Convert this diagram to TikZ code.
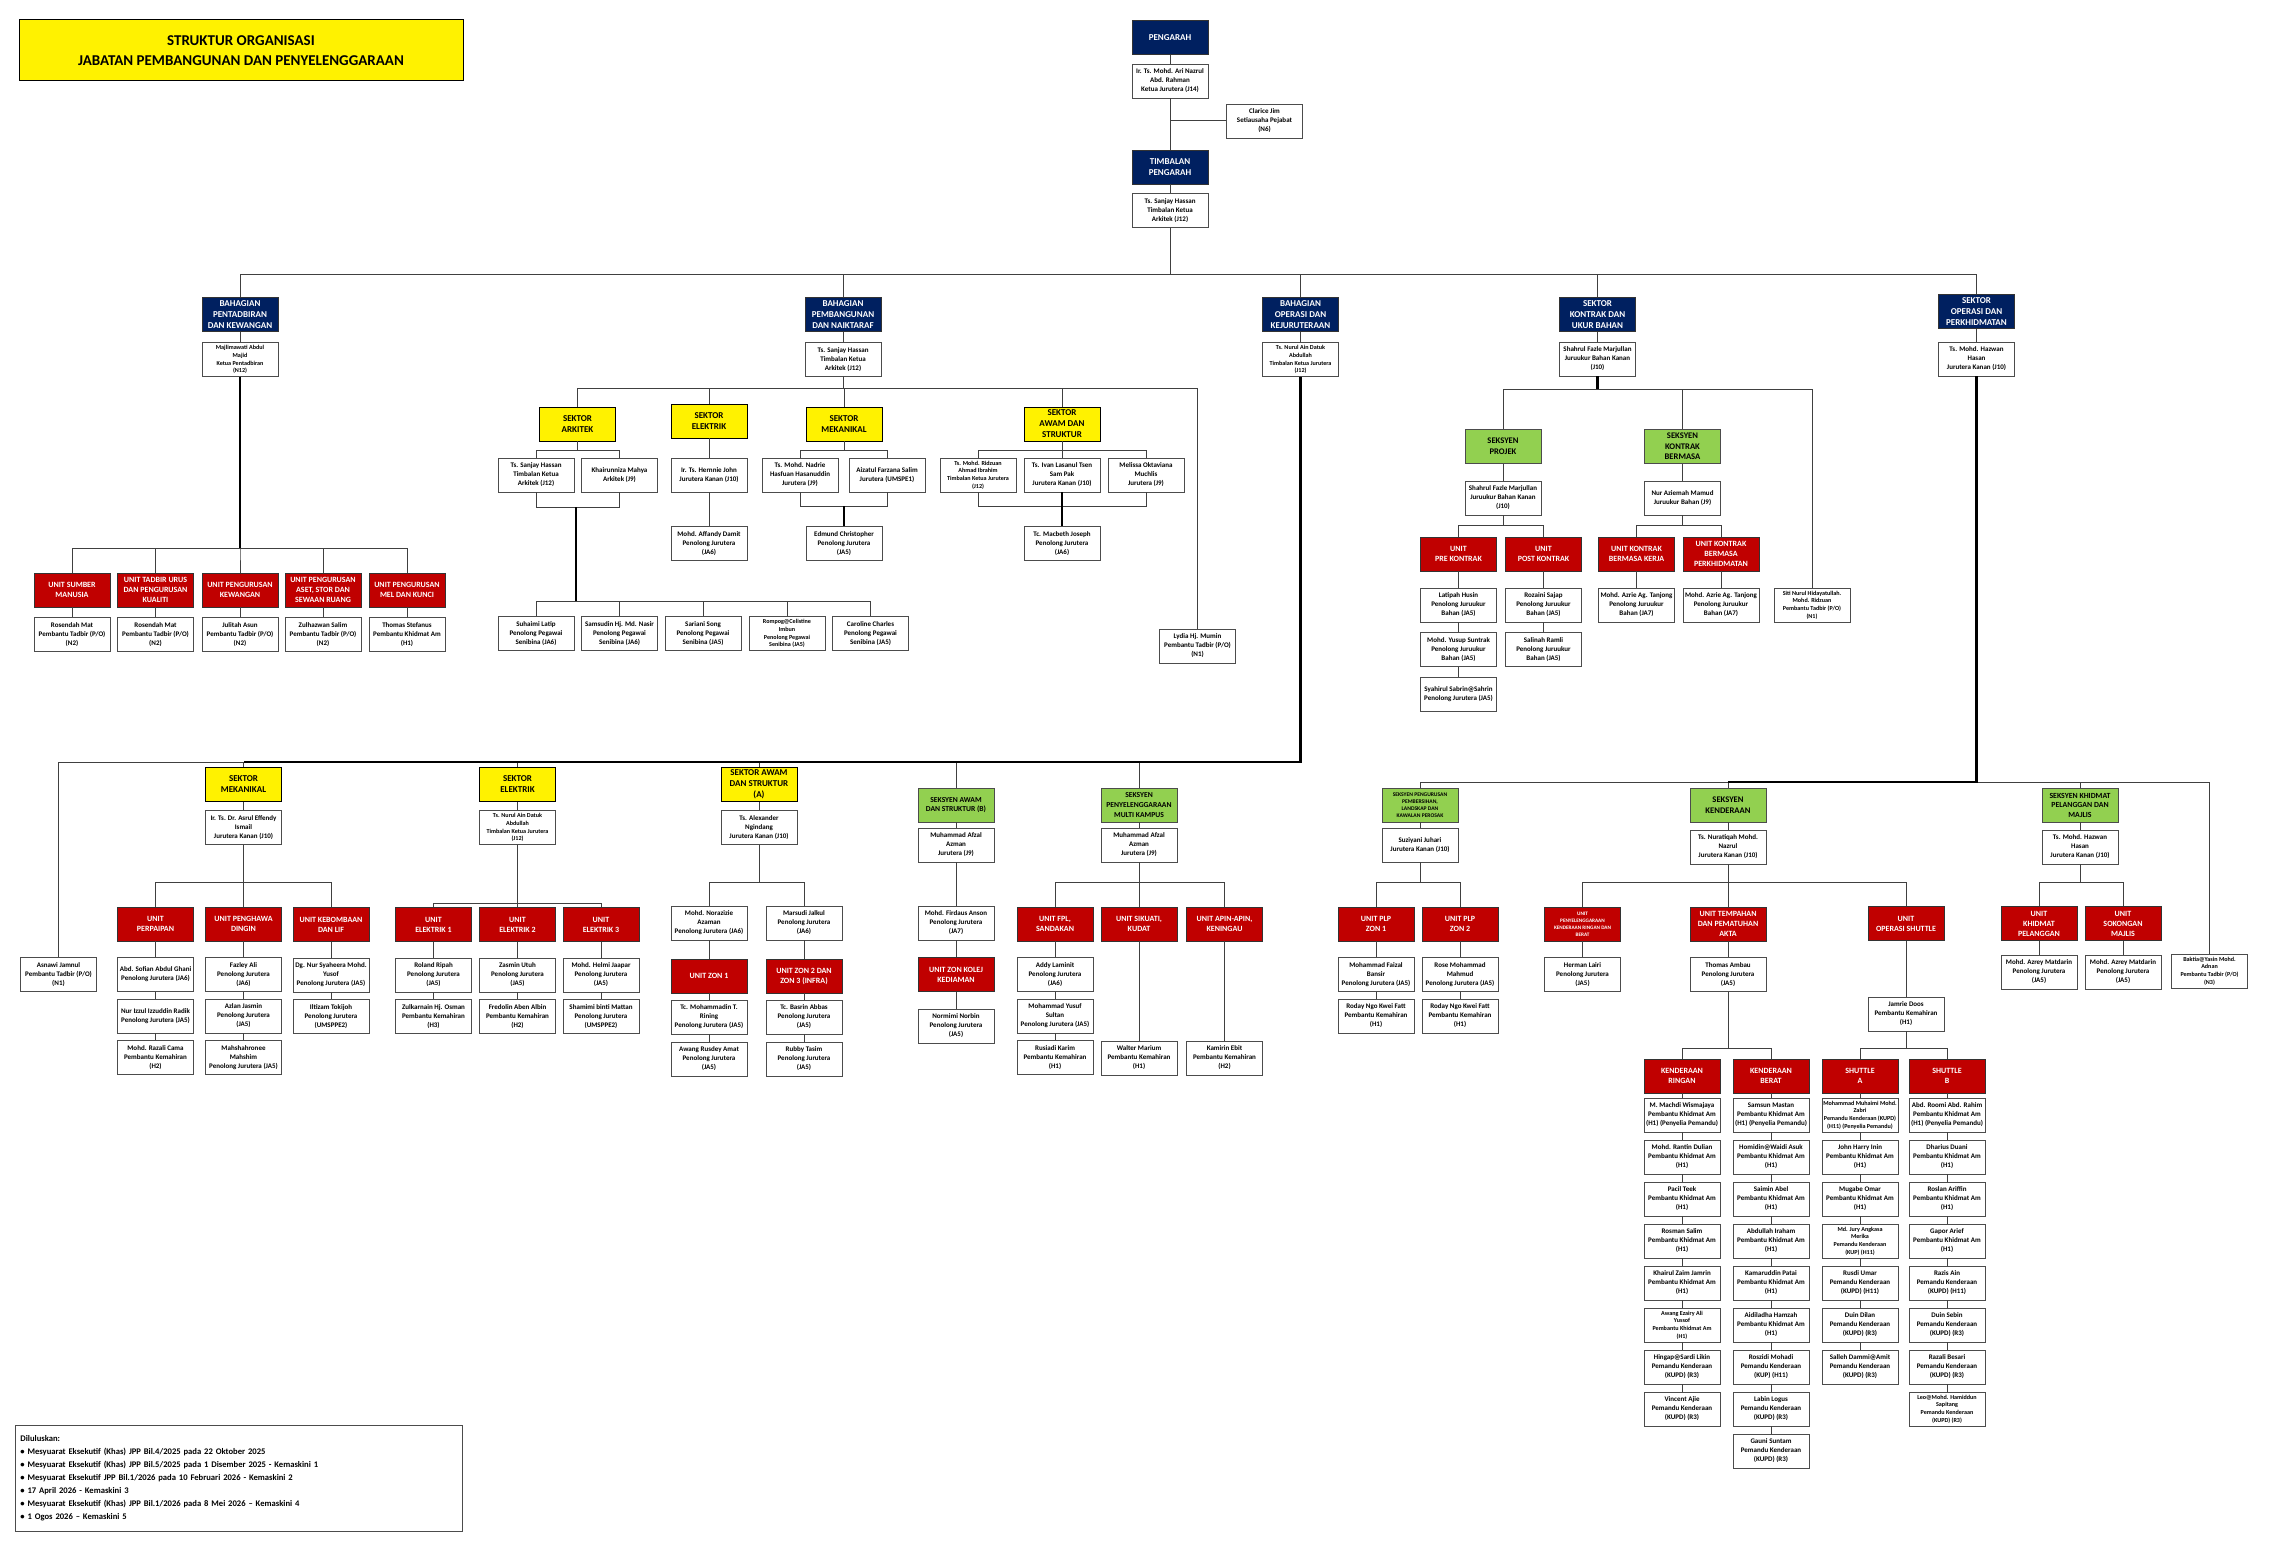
\documentclass[tikz,border=0pt]{standalone}
\usepackage{fontspec}
\setmainfont{Carlito}

\definecolor{navy}{HTML}{002060}
\definecolor{unitred}{HTML}{C00000}
\definecolor{leaf}{HTML}{92D050}

\tikzset{
  fs/.style 2 args={font=\bfseries\fontsize{#1}{#2}\selectfont},
  box/.style={line width=0.9pt, minimum width=76pt, minimum height=34pt, inner sep=1pt, align=center},
  staffbox/.style={box, draw=black!70, fill=white, fs={7}{9}},
  std/.style={},
  fourline/.style={fs={6.1}{7.7}},
  hdrbox/.style={box, draw=black!80, fill=navy, text=white, fs={9}{11}},
  sektorbox/.style={box, draw=black, fill=yellow, fs={9}{11}},
  seksyenbox/.style={box, draw=black!70, fill=leaf, fs={8.6}{10.6}},
  unitbox/.style={box, draw=black!80, fill=unitred, text=white, fs={8}{10}},
  titlebox/.style={draw=black, line width=1pt, fill=yellow, minimum width=444pt, minimum height=61pt, align=center, fs={15}{20}},
  notebox/.style={draw=black!70, line width=0.8pt, anchor=north west, text width=437pt, minimum height=106pt, inner sep=5pt, align=left, fs={8.6}{13}},
  conn/.style={draw=black!75, line width=1pt},
  conntk/.style={draw=black, line width=2.2pt},
}

\begin{document}
\begin{tikzpicture}[x=1pt, y=-1pt]
\useasboundingbox (0,0) rectangle (2269,1546);

% title and notes
\node[titlebox] (ttl) at (241,50.5) {STRUKTUR ORGANISASI\\JABATAN PEMBANGUNAN DAN PENYELENGGARAAN};
\node[notebox] (nota) at (15,1425) {Diluluskan:\\
\textbullet\ Mesyuarat Eksekutif (Khas) JPP Bil.4/2025 pada 22 Oktober 2025\\
\textbullet\ Mesyuarat Eksekutif (Khas) JPP Bil.5/2025 pada 1 Disember 2025 - Kemaskini 1\\
\textbullet\ Mesyuarat Eksekutif JPP Bil.1/2026 pada 10 Februari 2026 - Kemaskini 2\\
\textbullet\ 17 April 2026 - Kemaskini 3\\
\textbullet\ Mesyuarat Eksekutif (Khas) JPP Bil.1/2026 pada 8 Mei 2026 – Kemaskini 4\\
\textbullet\ 1 Ogos 2026 – Kemaskini 5};

% pengarah
\node[hdrbox] (pgr) at (1170,37.5) {PENGARAH};
\node[staffbox] (pgrN) at (1170,81) {Ir. Ts. Mohd. Ari Nazrul\\Abd. Rahman\\Ketua Jurutera (J14)};
\node[staffbox] (sec) at (1264.5,121) {Clarice Jim\\Setiausaha Pejabat\\(N6)};
\node[hdrbox] (tpg) at (1170,167) {TIMBALAN\\PENGARAH};
\node[staffbox] (tpgN) at (1170,210.5) {Ts. Sanjay Hassan\\Timbalan Ketua\\Arkitek (J12)};

% bahagian / sektor utama
\node[hdrbox] (bPtd) at (240,314.5) {BAHAGIAN\\PENTADBIRAN\\DAN KEWANGAN};
\node[staffbox, fourline] (nPtd) at (240,359.5) {Majlimawati Abdul\\Majid\\Ketua Pentadbiran\\(N12)};
\node[hdrbox] (bPbg) at (843,314.5) {BAHAGIAN\\PEMBANGUNAN\\DAN NAIKTARAF};
\node[staffbox] (nPbg) at (843,359.5) {Ts. Sanjay Hassan\\Timbalan Ketua\\Arkitek (J12)};
\node[hdrbox] (bOps) at (1300.5,314.5) {BAHAGIAN\\OPERASI DAN\\KEJURUTERAAN};
\node[staffbox, fourline] (nOps) at (1300.5,359.5) {Ts. Nurul Ain Datuk\\Abdullah\\Timbalan Ketua Jurutera\\(J12)};
\node[hdrbox] (sKub) at (1597.5,314.5) {SEKTOR\\KONTRAK DAN\\UKUR BAHAN};
\node[staffbox] (nKub) at (1597.5,359) {Shahrul Fazle Marjullan\\Juruukur Bahan Kanan\\(J10)};
\node[hdrbox] (sOpk) at (1976.5,311.5) {SEKTOR\\OPERASI DAN\\PERKHIDMATAN};
\node[staffbox] (nOpk) at (1976.5,359) {Ts. Mohd. Hazwan\\Hasan\\Jurutera Kanan (J10)};

% pentadbiran
\node[unitbox] (uSm) at (72,590) {UNIT SUMBER\\MANUSIA};
\node[unitbox] (uTu) at (155.5,590) {UNIT TADBIR URUS\\DAN PENGURUSAN\\KUALITI};
\node[unitbox] (uKw) at (240,590) {UNIT PENGURUSAN\\KEWANGAN};
\node[unitbox] (uAs) at (323,590) {UNIT PENGURUSAN\\ASET, STOR DAN\\SEWAAN RUANG};
\node[unitbox] (uMel) at (407,590) {UNIT PENGURUSAN\\MEL DAN KUNCI};
\node[staffbox] (sSm) at (72,634.5) {Rosendah Mat\\Pembantu Tadbir (P/O)\\(N2)};
\node[staffbox] (sTu) at (155.5,634.5) {Rosendah Mat\\Pembantu Tadbir (P/O)\\(N2)};
\node[staffbox] (sKw) at (240,634.5) {Julitah Asun\\Pembantu Tadbir (P/O)\\(N2)};
\node[staffbox] (sAs) at (323,634.5) {Zulhazwan Salim\\Pembantu Tadbir (P/O)\\(N2)};
\node[staffbox] (sMel) at (407,634.5) {Thomas Stefanus\\Pembantu Khidmat Am\\(H1)};

% pembangunan
\node[sektorbox] (sArk) at (577.5,424) {SEKTOR\\ARKITEK};
\node[sektorbox] (sElk) at (709,421) {SEKTOR\\ELEKTRIK};
\node[sektorbox] (sMek) at (844,424) {SEKTOR\\MEKANIKAL};
\node[sektorbox] (sAws) at (1062,424) {SEKTOR\\AWAM DAN\\STRUKTUR};
\node[staffbox] (lydia) at (1197.5,646) {Lydia Hj. Mumin\\Pembantu Tadbir (P/O)\\(N1)};
\node[staffbox] (ark1) at (536,475) {Ts. Sanjay Hassan\\Timbalan Ketua\\Arkitek (J12)};
\node[staffbox] (ark2) at (619.5,475) {Khairunniza Mahya\\Arkitek (J9)};
\coordinate (arkJ) at (576,507);
\node[staffbox] (arkS1) at (536,633.5) {Suhaimi Latip\\Penolong Pegawai\\Senibina (JA6)};
\node[staffbox] (arkS2) at (619.5,633.5) {Samsudin Hj. Md. Nasir\\Penolong Pegawai\\Senibina (JA6)};
\node[staffbox] (arkS3) at (703,633.5) {Sariani Song\\Penolong Pegawai\\Senibina (JA5)};
\node[staffbox, fourline] (arkS4) at (787,633.5) {Rompog@Celistine\\Imbun\\Penolong Pegawai\\Senibina (JA5)};
\node[staffbox] (arkS5) at (870.5,633.5) {Caroline Charles\\Penolong Pegawai\\Senibina (JA5)};
\node[staffbox] (el1) at (709,475) {Ir. Ts. Hernnie John\\Jurutera Kanan (J10)};
\node[staffbox] (el2) at (709,543.5) {Mohd. Affandy Damit\\Penolong Jurutera\\(JA6)};
\node[staffbox] (mk1) at (800,475) {Ts. Mohd. Nadrie\\Hasfuan Hasanuddin\\Jurutera (J9)};
\node[staffbox] (mk2) at (887,475) {Aizatul Farzana Salim\\Jurutera (UMSPE1)};
\node[staffbox] (mk3) at (844,543.5) {Edmund Christopher\\Penolong Jurutera\\(JA5)};
\node[staffbox, fourline] (aw1) at (978,475) {Ts. Mohd. Ridzuan\\Ahmad Ibrahim\\Timbalan Ketua Jurutera\\(J12)};
\node[staffbox] (aw2) at (1062,475) {Ts. Ivan Lasanul Tsen\\Sam Pak\\Jurutera Kanan (J10)};
\node[staffbox] (aw3) at (1146,475) {Melissa Oktaviana\\Muchlis\\Jurutera (J9)};
\node[staffbox] (aw4) at (1062,543.5) {Tc. Macbeth Joseph\\Penolong Jurutera\\(JA6)};

% operasi dan kejuruteraan
\node[staffbox] (asnawi) at (58.5,974.5) {Asnawi Jamnul\\Pembantu Tadbir (P/O)\\(N1)};
\node[sektorbox] (sMk) at (243.5,784.5) {SEKTOR\\MEKANIKAL};
\node[staffbox] (nMk) at (243.5,827.5) {Ir. Ts. Dr. Asrul Effendy\\Ismail\\Jurutera Kanan (J10)};
\node[unitbox, alias=uPp-0] (uPp) at (155.5,924) {UNIT\\PERPAIPAN};
\node[unitbox, alias=uPd-0] (uPd) at (243.5,924) {UNIT PENGHAWA\\DINGIN};
\node[unitbox, alias=uKb-0] (uKb) at (331,924.5) {UNIT KEBOMBAAN\\DAN LIF};
\node[sektorbox] (sEl) at (517.5,784.5) {SEKTOR\\ELEKTRIK};
\node[staffbox, fourline] (nEl) at (517.5,827.5) {Ts. Nurul Ain Datuk\\Abdullah\\Timbalan Ketua Jurutera\\(J12)};
\node[unitbox, alias=uE1-0] (uE1) at (433.5,924.5) {UNIT\\ELEKTRIK 1};
\node[unitbox, alias=uE2-0] (uE2) at (517.5,924.5) {UNIT\\ELEKTRIK 2};
\node[unitbox, alias=uE3-0] (uE3) at (601,924.5) {UNIT\\ELEKTRIK 3};
\node[sektorbox] (sAw) at (759,784.5) {SEKTOR AWAM\\DAN STRUKTUR\\(A)};
\node[staffbox] (nAw) at (759,827.5) {Ts. Alexander\\Ngindang\\Jurutera Kanan (J10)};
\node[staffbox] (zA1) at (709,923) {Mohd. Norazizie\\Azaman\\Penolong Jurutera (JA6)};
\node[staffbox] (zA2) at (804,923) {Marsudi Jalkul\\Penolong Jurutera\\(JA6)};
\node[unitbox, alias=uZ1-0] (uZ1) at (709,976) {UNIT ZON 1};
\node[unitbox, alias=uZ2-0] (uZ2) at (804,976) {UNIT ZON 2 DAN\\ZON 3 (INFRA)};
\node[seksyenbox, fs={7.6}{9.6}] (kAwB) at (956,805) {SEKSYEN AWAM\\DAN STRUKTUR (B)};
\node[staffbox] (nAwB) at (956,845) {Muhammad Afzal\\Azman\\Jurutera (J9)};
\node[staffbox] (firdaus) at (956,923) {Mohd. Firdaus Anson\\Penolong Jurutera\\(JA7)};
\node[unitbox] (uKol) at (956,974.5) {UNIT ZON KOLEJ\\KEDIAMAN};
\node[staffbox] (normimi) at (956,1026) {Normimi Norbin\\Penolong Jurutera\\(JA5)};
\node[seksyenbox, fs={7.6}{9.6}] (kMkp) at (1139,805) {SEKSYEN\\PENYELENGGARAAN\\MULTI KAMPUS};
\node[staffbox] (nMkp) at (1139,845) {Muhammad Afzal\\Azman\\Jurutera (J9)};
\node[unitbox, alias=uFpl-0] (uFpl) at (1055,924) {UNIT FPL,\\SANDAKAN};
\node[unitbox] (uSik) at (1139,924) {UNIT SIKUATI,\\KUDAT};
\node[unitbox] (uApn) at (1224.5,924) {UNIT APIN-APIN,\\KENINGAU};
\node[staffbox] (walter) at (1139,1058) {Walter Marium\\Pembantu Kemahiran\\(H1)};
\node[staffbox] (kamirin) at (1224.5,1058) {Kamirin Ebit\\Pembantu Kemahiran\\(H2)};

% kontrak dan ukur bahan
\node[seksyenbox] (kPrj) at (1503,446.5) {SEKSYEN\\PROJEK};
\node[staffbox] (nPrj) at (1503,498) {Shahrul Fazle Marjullan\\Juruukur Bahan Kanan\\(J10)};
\node[seksyenbox] (kKbm) at (1682.5,446.5) {SEKSYEN\\KONTRAK\\BERMASA};
\node[staffbox] (nKbm) at (1682.5,498) {Nur Aziemah Mamud\\Juruukur Bahan (J9)};
\node[staffbox, fourline] (siti) at (1812,605) {Siti Nurul Hidayatullah.\\Mohd. Ridzuan\\Pembantu Tadbir (P/O)\\(N1)};
\node[unitbox, alias=uPre-0] (uPre) at (1458.5,554) {UNIT\\PRE KONTRAK};
\node[unitbox, alias=uPost-0] (uPost) at (1543.5,554) {UNIT\\POST KONTRAK};
\node[unitbox] (uKbk) at (1636.5,554) {UNIT KONTRAK\\BERMASA KERJA};
\node[unitbox] (uKbp) at (1721,554) {UNIT KONTRAK\\BERMASA\\PERKHIDMATAN};
\node[staffbox] (azrie1) at (1636.5,605) {Mohd. Azrie Ag. Tanjong\\Penolong Juruukur\\Bahan (JA7)};
\node[staffbox] (azrie2) at (1721,605) {Mohd. Azrie Ag. Tanjong\\Penolong Juruukur\\Bahan (JA7)};

% operasi dan perkhidmatan
\node[seksyenbox, fs={5.6}{7}] (kPlp) at (1420,805) {SEKSYEN PENGURUSAN\\PEMBERSIHAN,\\LANDSKAP DAN\\KAWALAN PEROSAK};
\node[staffbox] (nPlp) at (1420,845) {Suziyani Juhari\\Jurutera Kanan (J10)};
\node[unitbox, alias=uP1-0] (uP1) at (1376,924) {UNIT PLP\\ZON 1};
\node[unitbox, alias=uP2-0] (uP2) at (1460,924) {UNIT PLP\\ZON 2};
\node[seksyenbox] (kKen) at (1728,805) {SEKSYEN\\KENDERAAN};
\node[staffbox] (nKen) at (1728,847) {Ts. Nuratiqah Mohd.\\Nazrul\\Jurutera Kanan (J10)};
\node[unitbox, fs={5.2}{7}] (uPkr) at (1582.5,924) {UNIT\\PENYELENGGARAAN\\KENDERAAN RINGAN DAN\\BERAT};
\node[unitbox] (uTmp) at (1728,924) {UNIT TEMPAHAN\\DAN PEMATUHAN\\AKTA};
\node[unitbox] (uSht) at (1906,923.5) {UNIT\\OPERASI SHUTTLE};
\node[staffbox] (herman) at (1582.5,974.5) {Herman Lairi\\Penolong Jurutera\\(JA5)};
\node[staffbox] (thomas) at (1728,974.5) {Thomas Ambau\\Penolong Jurutera\\(JA5)};
\node[staffbox] (jamrie) at (1906,1014) {Jamrie Doos\\Pembantu Kemahiran\\(H1)};
\node[unitbox, alias=kRg-0] (kRg) at (1682,1076) {KENDERAAN\\RINGAN};
\node[unitbox, alias=kBr-0] (kBr) at (1771,1076) {KENDERAAN\\BERAT};
\node[unitbox, alias=shA-0] (shA) at (1860,1076) {SHUTTLE\\A};
\node[unitbox, alias=shB-0] (shB) at (1947,1076) {SHUTTLE\\B};
\node[seksyenbox, fs={7.8}{9.5}] (kKhd) at (2080,805) {SEKSYEN KHIDMAT\\PELANGGAN DAN\\MAJLIS};
\node[staffbox] (nKhd) at (2080,847) {Ts. Mohd. Hazwan\\Hasan\\Jurutera Kanan (J10)};
\node[unitbox] (uKp) at (2039,923.5) {UNIT\\KHIDMAT\\PELANGGAN};
\node[unitbox] (uSm2) at (2123,923.5) {UNIT\\SOKONGAN\\MAJLIS};
\node[staffbox] (azrey1) at (2039,972) {Mohd. Azrey Matdarin\\Penolong Jurutera\\(JA5)};
\node[staffbox] (azrey2) at (2123,972) {Mohd. Azrey Matdarin\\Penolong Jurutera\\(JA5)};
\node[staffbox, fourline] (baktia) at (2209.5,971) {Baktia@Yasin Mohd.\\Adnan\\Pembantu Tadbir (P/O)\\(N3)};

% staff columns
\foreach \s/\t [count=\i, remember=\i as \j (initially 0)] in {
  std/{Abd. Sofian Abdul Ghani\\Penolong Jurutera (JA6)},
  std/{Nur Izzul Izzuddin Radik\\Penolong Jurutera (JA5)},
  std/{Mohd. Razali Cama\\Pembantu Kemahiran\\(H2)}}
  {\node[staffbox, \s] (uPp-\i) at (155.5,933+41.5*\i) {\t};
   \draw[conn] (uPp-\j.south) -- (uPp-\i.north);}
\foreach \s/\t [count=\i, remember=\i as \j (initially 0)] in {
  std/{Fazley Ali\\Penolong Jurutera\\(JA6)},
  std/{Azlan Jasmin\\Penolong Jurutera\\(JA5)},
  std/{Mahshahronee\\Mahshim\\Penolong Jurutera (JA5)}}
  {\node[staffbox, \s] (uPd-\i) at (243.5,933+41.5*\i) {\t};
   \draw[conn] (uPd-\j.south) -- (uPd-\i.north);}
\foreach \s/\t [count=\i, remember=\i as \j (initially 0)] in {
  std/{Dg. Nur Syaheera Mohd.\\Yusof\\Penolong Jurutera (JA5)},
  std/{Iltizam Tokijoh\\Penolong Jurutera\\(UMSPPE2)}}
  {\node[staffbox, \s] (uKb-\i) at (331,933.5+41.5*\i) {\t};
   \draw[conn] (uKb-\j.south) -- (uKb-\i.north);}
\foreach \s/\t [count=\i, remember=\i as \j (initially 0)] in {
  std/{Roland Ripah\\Penolong Jurutera\\(JA5)},
  std/{Zulkarnain Hj. Osman\\Pembantu Kemahiran\\(H3)}}
  {\node[staffbox, \s] (uE1-\i) at (433.5,933.5+41.5*\i) {\t};
   \draw[conn] (uE1-\j.south) -- (uE1-\i.north);}
\foreach \s/\t [count=\i, remember=\i as \j (initially 0)] in {
  std/{Zasmin Utuh\\Penolong Jurutera\\(JA5)},
  std/{Fredolin Aben Albin\\Pembantu Kemahiran\\(H2)}}
  {\node[staffbox, \s] (uE2-\i) at (517.5,933.5+41.5*\i) {\t};
   \draw[conn] (uE2-\j.south) -- (uE2-\i.north);}
\foreach \s/\t [count=\i, remember=\i as \j (initially 0)] in {
  std/{Mohd. Helmi Jaapar\\Penolong Jurutera\\(JA5)},
  std/{Shamimi binti Mattan\\Penolong Jurutera\\(UMSPPE2)}}
  {\node[staffbox, \s] (uE3-\i) at (601,933.5+41.5*\i) {\t};
   \draw[conn] (uE3-\j.south) -- (uE3-\i.north);}
\foreach \s/\t [count=\i, remember=\i as \j (initially 0)] in {
  std/{Tc. Mohammadin T.\\Rining\\Penolong Jurutera (JA5)},
  std/{Awang Rusdey Amat\\Penolong Jurutera\\(JA5)}}
  {\node[staffbox, \s] (uZ1-\i) at (709,975+42*\i) {\t};
   \draw[conn] (uZ1-\j.south) -- (uZ1-\i.north);}
\foreach \s/\t [count=\i, remember=\i as \j (initially 0)] in {
  std/{Tc. Basrin Abbas\\Penolong Jurutera\\(JA5)},
  std/{Rubby Tasim\\Penolong Jurutera\\(JA5)}}
  {\node[staffbox, \s] (uZ2-\i) at (804,975+42*\i) {\t};
   \draw[conn] (uZ2-\j.south) -- (uZ2-\i.north);}
\foreach \s/\t [count=\i, remember=\i as \j (initially 0)] in {
  std/{Addy Laminit\\Penolong Jurutera\\(JA6)},
  std/{Mohammad Yusuf\\Sultan\\Penolong Jurutera (JA5)},
  std/{Rusiadi Karim\\Pembantu Kemahiran\\(H1)}}
  {\node[staffbox, \s] (uFpl-\i) at (1055,933+41.5*\i) {\t};
   \draw[conn] (uFpl-\j.south) -- (uFpl-\i.north);}
\foreach \s/\t [count=\i, remember=\i as \j (initially 0)] in {
  std/{Latipah Husin\\Penolong Juruukur\\Bahan (JA5)},
  std/{Mohd. Yusup Suntrak\\Penolong Juruukur\\Bahan (JA5)},
  std/{Syahirul Sabrin@Sahrin\\Penolong Jurutera (JA5)}}
  {\node[staffbox, \s] (uPre-\i) at (1458.5,560.5+44.5*\i) {\t};
   \draw[conn] (uPre-\j.south) -- (uPre-\i.north);}
\foreach \s/\t [count=\i, remember=\i as \j (initially 0)] in {
  std/{Rozaini Sajap\\Penolong Juruukur\\Bahan (JA5)},
  std/{Salinah Ramli\\Penolong Juruukur\\Bahan (JA5)}}
  {\node[staffbox, \s] (uPost-\i) at (1543.5,560.5+44.5*\i) {\t};
   \draw[conn] (uPost-\j.south) -- (uPost-\i.north);}
\foreach \s/\t [count=\i, remember=\i as \j (initially 0)] in {
  std/{Mohammad Faizal\\Bansir\\Penolong Jurutera (JA5)},
  std/{Roday Ngo Kwei Fatt\\Pembantu Kemahiran\\(H1)}}
  {\node[staffbox, \s] (uP1-\i) at (1376,933+41.5*\i) {\t};
   \draw[conn] (uP1-\j.south) -- (uP1-\i.north);}
\foreach \s/\t [count=\i, remember=\i as \j (initially 0)] in {
  std/{Rose Mohammad\\Mahmud\\Penolong Jurutera (JA5)},
  std/{Roday Ngo Kwei Fatt\\Pembantu Kemahiran\\(H1)}}
  {\node[staffbox, \s] (uP2-\i) at (1460,933+41.5*\i) {\t};
   \draw[conn] (uP2-\j.south) -- (uP2-\i.north);}
\foreach \s/\t [count=\i, remember=\i as \j (initially 0)] in {
  std/{M. Machdi Wismajaya\\Pembantu Khidmat Am\\(H1) (Penyelia Pemandu)},
  std/{Mohd. Rantin Dulian\\Pembantu Khidmat Am\\(H1)},
  std/{Pacil Teek\\Pembantu Khidmat Am\\(H1)},
  std/{Rosman Salim\\Pembantu Khidmat Am\\(H1)},
  std/{Khairul Zaim Jamrin\\Pembantu Khidmat Am\\(H1)},
  fourline/{Awang Ezairy Ali\\Yussof\\Pembantu Khidmat Am\\(H1)},
  std/{Hingap@Sardi Likin\\Pemandu Kenderaan\\(KUPD) (R3)},
  std/{Vincent Ajie\\Pemandu Kenderaan\\(KUPD) (R3)}}
  {\node[staffbox, \s] (kRg-\i) at (1682,1073+42*\i) {\t};
   \draw[conn] (kRg-\j.south) -- (kRg-\i.north);}
\foreach \s/\t [count=\i, remember=\i as \j (initially 0)] in {
  std/{Samsun Mastan\\Pembantu Khidmat Am\\(H1) (Penyelia Pemandu)},
  std/{Homidin@Waidi Asuk\\Pembantu Khidmat Am\\(H1)},
  std/{Saimin Abel\\Pembantu Khidmat Am\\(H1)},
  std/{Abdullah Iraham\\Pembantu Khidmat Am\\(H1)},
  std/{Kamaruddin Patai\\Pembantu Khidmat Am\\(H1)},
  std/{Aidiladha Hamzah\\Pembantu Khidmat Am\\(H1)},
  std/{Roszidi Mohadi\\Pemandu Kenderaan\\(KUP) (H11)},
  std/{Labin Logus\\Pemandu Kenderaan\\(KUPD) (R3)},
  std/{Gauni Suntam\\Pemandu Kenderaan\\(KUPD) (R3)}}
  {\node[staffbox, \s] (kBr-\i) at (1771,1073+42*\i) {\t};
   \draw[conn] (kBr-\j.south) -- (kBr-\i.north);}
\foreach \s/\t [count=\i, remember=\i as \j (initially 0)] in {
  fourline/{Mohammad Muhaimi Mohd.\\Zabri\\Pemandu Kenderaan (KUPD)\\(H11) (Penyelia Pemandu)},
  std/{John Harry Inin\\Pembantu Khidmat Am\\(H1)},
  std/{Mugabe Omar\\Pembantu Khidmat Am\\(H1)},
  fourline/{Md. Jury Angkasa\\Merika\\Pemandu Kenderaan\\(KUP) (H11)},
  std/{Rusdi Umar\\Pemandu Kenderaan\\(KUPD) (H11)},
  std/{Duin Dilan\\Pemandu Kenderaan\\(KUPD) (R3)},
  std/{Salleh Dammi@Amit\\Pemandu Kenderaan\\(KUPD) (R3)}}
  {\node[staffbox, \s] (shA-\i) at (1860,1073+42*\i) {\t};
   \draw[conn] (shA-\j.south) -- (shA-\i.north);}
\foreach \s/\t [count=\i, remember=\i as \j (initially 0)] in {
  std/{Abd. Roomi Abd. Rahim\\Pembantu Khidmat Am\\(H1) (Penyelia Pemandu)},
  std/{Dharius Duani\\Pembantu Khidmat Am\\(H1)},
  std/{Roslan Ariffin\\Pembantu Khidmat Am\\(H1)},
  std/{Gapor Arief\\Pembantu Khidmat Am\\(H1)},
  std/{Razis Ain\\Pemandu Kenderaan\\(KUPD) (H11)},
  std/{Duin Sebin\\Pemandu Kenderaan\\(KUPD) (R3)},
  std/{Razali Besari\\Pemandu Kenderaan\\(KUPD) (R3)},
  fourline/{Leo@Mohd. Hamiddun\\Sapitang\\Pemandu Kenderaan\\(KUPD) (R3)}}
  {\node[staffbox, \s] (shB-\i) at (1947,1073+42*\i) {\t};
   \draw[conn] (shB-\j.south) -- (shB-\i.north);}

% connectors, top
\draw[conn] (pgr) -- (pgrN);
\draw[conn] (pgrN) -- (tpg);
\draw[conn] (pgrN.south |- sec.west) -- (sec.west);
\draw[conn] (tpg) -- (tpgN);
\foreach \c in {bPtd,bPbg,bOps,sKub,sOpk}
  \draw[conn] (tpgN.south) -- (tpgN.south |- 0,275) -| (\c.north);
\foreach \a/\b in {bPtd/nPtd,bPbg/nPbg,bOps/nOps,sKub/nKub,sOpk/nOpk}
  \draw[conn] (\a) -- (\b);

% connectors, pentadbiran
\foreach \c in {uSm,uTu,uKw,uAs,uMel}
  \draw[conn] (nPtd.south) -- (nPtd.south |- 0,548) -| (\c.north);
\draw[conntk] (nPtd.south) -- (nPtd.south |- 0,548);
\foreach \u/\s in {uSm/sSm,uTu/sTu,uKw/sKw,uAs/sAs,uMel/sMel}
  \draw[conn] (\u) -- (\s);

% connectors, pembangunan
\foreach \c in {sArk,sElk,sMek,sAws,lydia}
  \draw[conn] (nPbg.south) -- (nPbg.south |- 0,388) -| (\c.north);
\foreach \c in {ark1,ark2}
  \draw[conn] (sArk.south) -- (sArk.south |- 0,450) -| (\c.north);
\draw[conn] (ark1.south) -- (ark1.south |- 0,507) -| (ark2.south);
\foreach \c in {arkS1,arkS2,arkS3,arkS4,arkS5}
  \draw[conn] (arkJ) -- (arkJ |- 0,601) -| (\c.north);
\draw[conntk] (arkJ) -- (arkJ |- 0,601);
\draw[conn] (sElk) -- (el1);
\draw[conn] (el1) -- (el2);
\foreach \c in {mk1,mk2}
  \draw[conn] (sMek.south) -- (sMek.south |- 0,450) -| (\c.north);
\draw[conn] (mk1.south) -- (mk1.south |- 0,506) -| (mk2.south);
\draw[conntk] (mk3.north |- 0,506) -- (mk3.north);
\foreach \c in {aw1,aw2,aw3}
  \draw[conn] (sAws.south) -- (sAws.south |- 0,450) -| (\c.north);
\draw[conn] (aw1.south) -- (aw1.south |- 0,506) -| (aw3.south);
\draw[conntk] (aw2.south) -- (aw4.north);

% connectors, operasi dan kejuruteraan
\foreach \c in {asnawi,sMk,sEl,sAw,kAwB,kMkp}
  \draw[conn] (nOps.south) -- (nOps.south |- 0,762) -| (\c.north);
\draw[conntk] (nOps.south) -- (nOps.south |- 0,762) -- (sMk.north |- 0,762);
\draw[conn] (sMk) -- (nMk);
\foreach \c in {uPp,uPd,uKb}
  \draw[conn] (nMk.south) -- (nMk.south |- 0,882) -| (\c.north);
\draw[conn] (sEl) -- (nEl);
\foreach \c in {uE1,uE2,uE3}
  \draw[conn] (nEl.south) -- (nEl.south |- 0,903) -| (\c.north);
\draw[conn] (sAw) -- (nAw);
\foreach \c in {zA1,zA2}
  \draw[conn] (nAw.south) -- (nAw.south |- 0,882) -| (\c.north);
\draw[conn] (zA1) -- (uZ1);
\draw[conn] (zA2) -- (uZ2);
\draw[conn] (kAwB) -- (nAwB);
\draw[conn] (nAwB) -- (firdaus);
\draw[conn] (firdaus) -- (uKol);
\draw[conn] (uKol) -- (normimi);
\draw[conn] (kMkp) -- (nMkp);
\foreach \c in {uFpl,uSik,uApn}
  \draw[conn] (nMkp.south) -- (nMkp.south |- 0,882) -| (\c.north);
\draw[conn] (uSik) -- (walter);
\draw[conn] (uApn) -- (kamirin);

% connectors, kontrak dan ukur bahan
\foreach \c in {kPrj,kKbm,siti}
  \draw[conn] (nKub.south) -- (nKub.south |- 0,389) -| (\c.north);
\draw[conntk] (nKub.south) -- (nKub.south |- 0,389);
\draw[conn] (kPrj) -- (nPrj);
\draw[conn] (kKbm) -- (nKbm);
\foreach \c in {uPre,uPost}
  \draw[conn] (nPrj.south) -- (nPrj.south |- 0,525) -| (\c.north);
\foreach \c in {uKbk,uKbp}
  \draw[conn] (nKbm.south) -- (nKbm.south |- 0,525) -| (\c.north);
\draw[conn] (uKbk) -- (azrie1);
\draw[conn] (uKbp) -- (azrie2);

% connectors, operasi dan perkhidmatan
\foreach \c in {kPlp,kKen,kKhd,baktia}
  \draw[conn] (nOpk.south) -- (nOpk.south |- 0,782) -| (\c.north);
\draw[conntk] (nOpk.south) -- (nOpk.south |- 0,782) -- (kKen.north |- 0,782);
\draw[conn] (kPlp) -- (nPlp);
\foreach \c in {uP1,uP2}
  \draw[conn] (nPlp.south) -- (nPlp.south |- 0,882) -| (\c.north);
\draw[conn] (kKen) -- (nKen);
\foreach \c in {uPkr,uTmp,uSht}
  \draw[conn] (nKen.south) -- (nKen.south |- 0,882) -| (\c.north);
\draw[conn] (uPkr) -- (herman);
\draw[conn] (uTmp) -- (thomas);
\draw[conn] (uSht) -- (jamrie);
\foreach \c in {kRg,kBr}
  \draw[conn] (thomas.south) -- (thomas.south |- 0,1048) -| (\c.north);
\foreach \c in {shA,shB}
  \draw[conn] (jamrie.south) -- (jamrie.south |- 0,1048) -| (\c.north);
\draw[conn] (kKhd) -- (nKhd);
\foreach \c in {uKp,uSm2}
  \draw[conn] (nKhd.south) -- (nKhd.south |- 0,882) -| (\c.north);
\draw[conn] (uKp) -- (azrey1);
\draw[conn] (uSm2) -- (azrey2);
\end{tikzpicture}
\end{document}
